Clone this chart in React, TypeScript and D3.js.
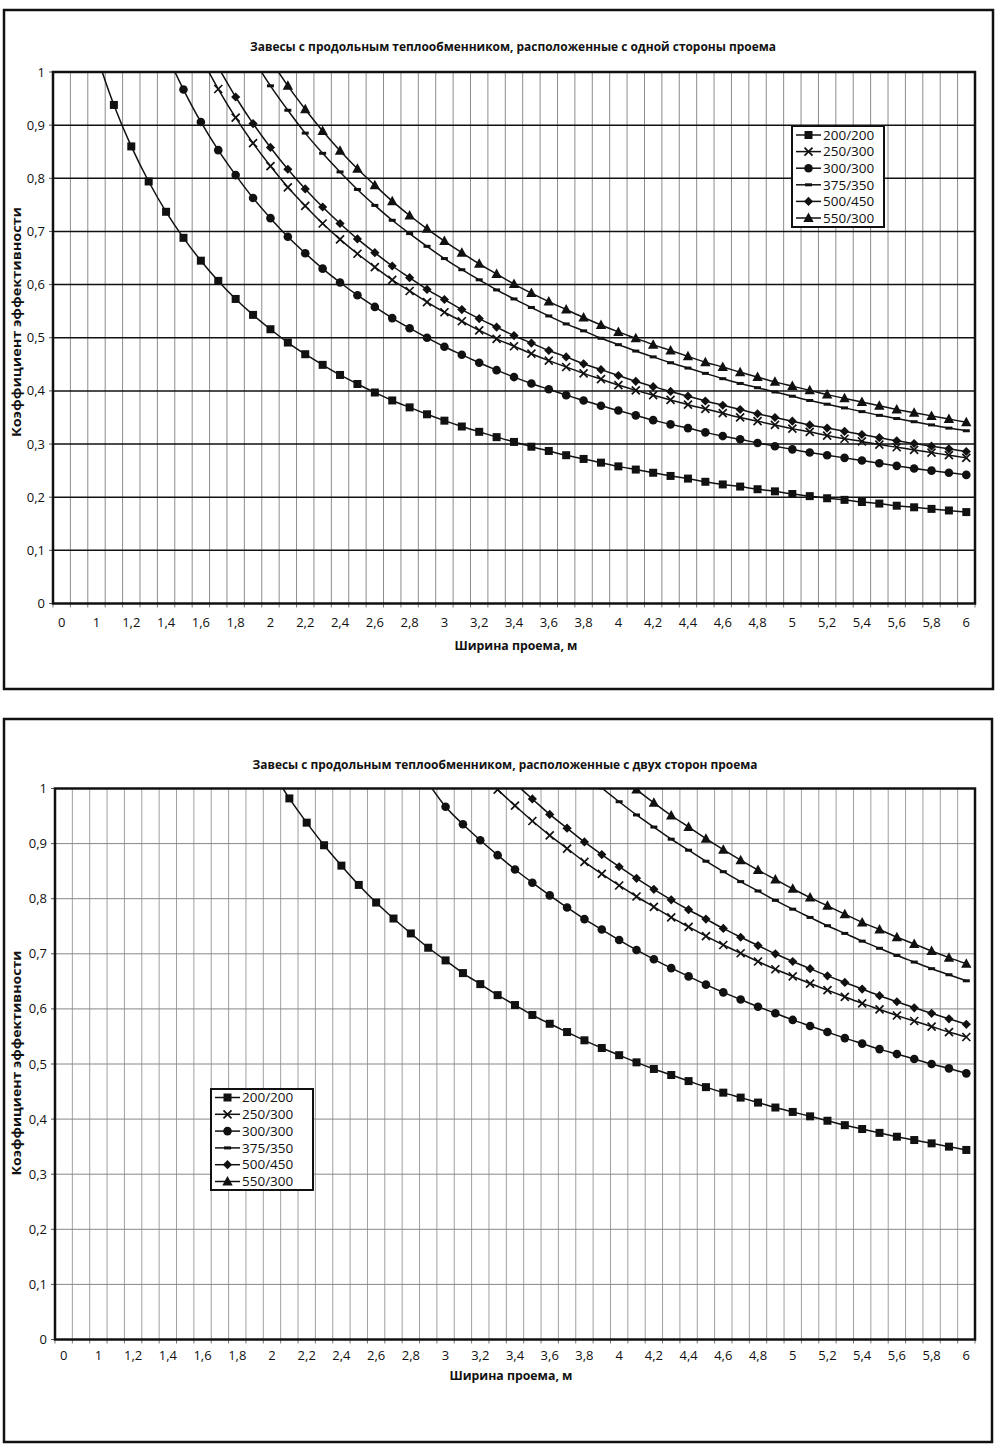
import React from "react";
import * as d3 from "d3";

// ---------- categories (x) ----------
const categories = [
  "0", "", "1", "1,1", "1,2", "1,3", "1,4", "1,5", "1,6", "1,7", "1,8", "1,9",
  "2", "2,1", "2,2", "2,3", "2,4", "2,5", "2,6", "2,7", "2,8", "2,9",
  "3", "3,1", "3,2", "3,3", "3,4", "3,5", "3,6", "3,7", "3,8", "3,9",
  "4", "4,1", "4,2", "4,3", "4,4", "4,5", "4,6", "4,7", "4,8", "4,9",
  "5", "5,1", "5,2", "5,3", "5,4", "5,5", "5,6", "5,7", "5,8", "5,9", "6",
];
const yTicks = [0, 0.1, 0.2, 0.3, 0.4, 0.5, 0.6, 0.7, 0.8, 0.9, 1];
const yTickLabels = ["0", "0,1", "0,2", "0,3", "0,4", "0,5", "0,6", "0,7", "0,8", "0,9", "1"];

const seriesNames = ["200/200", "250/300", "300/300", "375/350", "500/450", "550/300"];
const seriesMarkers = ["square", "cross", "circle", "dash", "diamond", "triangle"];

// ---------- panel 1: one side of the opening ----------
const p1Start = ["1", "1,6", "1,4", "1,9", "1,7", "2"];
const p1_200_200 = [1.032, 0.938, 0.860, 0.794, 0.737, 0.688, 0.645, 0.607, 0.573, 0.543, 0.516, 0.491, 0.469, 0.449, 0.430, 0.413, 0.397, 0.382, 0.369, 0.356, 0.344, 0.333, 0.323, 0.313, 0.304, 0.295, 0.287, 0.279, 0.272, 0.265, 0.258, 0.252, 0.246, 0.240, 0.235, 0.229, 0.224, 0.220, 0.215, 0.211, 0.206, 0.202, 0.198, 0.195, 0.191, 0.188, 0.184, 0.181, 0.178, 0.175, 0.172];
const p1_250_300 = [1.028, 0.968, 0.914, 0.866, 0.823, 0.783, 0.748, 0.715, 0.685, 0.658, 0.633, 0.609, 0.588, 0.567, 0.548, 0.531, 0.514, 0.498, 0.484, 0.470, 0.457, 0.445, 0.433, 0.422, 0.411, 0.401, 0.392, 0.383, 0.374, 0.366, 0.358, 0.350, 0.343, 0.336, 0.329, 0.323, 0.316, 0.310, 0.305, 0.299, 0.294, 0.289, 0.284, 0.279, 0.274];
const p1_300_300 = [1.036, 0.967, 0.906, 0.853, 0.806, 0.763, 0.725, 0.690, 0.659, 0.630, 0.604, 0.580, 0.558, 0.537, 0.518, 0.500, 0.483, 0.468, 0.453, 0.439, 0.426, 0.414, 0.403, 0.392, 0.382, 0.372, 0.363, 0.354, 0.345, 0.337, 0.330, 0.322, 0.315, 0.309, 0.302, 0.296, 0.290, 0.284, 0.279, 0.274, 0.269, 0.264, 0.259, 0.254, 0.250, 0.246, 0.242];
const p1_375_350 = [1.025, 0.974, 0.928, 0.885, 0.847, 0.812, 0.779, 0.749, 0.721, 0.696, 0.672, 0.649, 0.628, 0.609, 0.590, 0.573, 0.557, 0.541, 0.526, 0.513, 0.499, 0.487, 0.475, 0.464, 0.453, 0.443, 0.433, 0.423, 0.414, 0.406, 0.398, 0.390, 0.382, 0.375, 0.368, 0.361, 0.354, 0.348, 0.342, 0.336, 0.330, 0.325];
const p1_500_450 = [1.009, 0.953, 0.903, 0.858, 0.817, 0.780, 0.746, 0.715, 0.686, 0.660, 0.635, 0.613, 0.591, 0.572, 0.553, 0.536, 0.520, 0.504, 0.490, 0.476, 0.464, 0.451, 0.440, 0.429, 0.418, 0.408, 0.399, 0.390, 0.381, 0.373, 0.365, 0.357, 0.350, 0.343, 0.336, 0.330, 0.324, 0.318, 0.312, 0.306, 0.301, 0.296, 0.291, 0.286];
const p1_550_300 = [1.023, 0.974, 0.930, 0.889, 0.852, 0.818, 0.787, 0.757, 0.730, 0.705, 0.682, 0.660, 0.639, 0.620, 0.601, 0.584, 0.568, 0.553, 0.538, 0.524, 0.511, 0.499, 0.487, 0.476, 0.465, 0.454, 0.445, 0.435, 0.426, 0.417, 0.409, 0.401, 0.393, 0.386, 0.379, 0.372, 0.365, 0.359, 0.353, 0.347, 0.341];

// ---------- panel 2: both sides of the opening ----------
const p2Start = ["2", "3,2", "2,9", "3,8", "3,4", "4"];
const p2_200_200 = [1.032, 0.982, 0.938, 0.897, 0.860, 0.825, 0.793, 0.764, 0.737, 0.711, 0.688, 0.665, 0.645, 0.625, 0.607, 0.589, 0.573, 0.558, 0.543, 0.529, 0.516, 0.503, 0.491, 0.480, 0.469, 0.458, 0.448, 0.439, 0.430, 0.421, 0.413, 0.405, 0.397, 0.389, 0.382, 0.375, 0.368, 0.362, 0.356, 0.350, 0.344];
const p2_250_300 = [1.030, 0.998, 0.969, 0.941, 0.915, 0.891, 0.867, 0.845, 0.824, 0.804, 0.785, 0.766, 0.749, 0.732, 0.716, 0.701, 0.686, 0.672, 0.659, 0.646, 0.634, 0.622, 0.610, 0.599, 0.588, 0.578, 0.568, 0.558, 0.549];
const p2_300_300 = [1.010, 0.967, 0.935, 0.906, 0.879, 0.853, 0.829, 0.806, 0.784, 0.763, 0.744, 0.725, 0.707, 0.690, 0.674, 0.659, 0.644, 0.630, 0.617, 0.604, 0.592, 0.580, 0.569, 0.558, 0.547, 0.537, 0.527, 0.518, 0.509, 0.500, 0.492, 0.483];
const p2_375_350 = [1.028, 1.001, 0.976, 0.952, 0.930, 0.908, 0.888, 0.868, 0.849, 0.831, 0.814, 0.797, 0.781, 0.766, 0.751, 0.737, 0.723, 0.710, 0.697, 0.685, 0.673, 0.662, 0.651];
const p2_500_450 = [1.009, 0.981, 0.953, 0.928, 0.903, 0.880, 0.858, 0.837, 0.817, 0.798, 0.780, 0.763, 0.746, 0.730, 0.715, 0.700, 0.686, 0.673, 0.660, 0.648, 0.636, 0.624, 0.613, 0.602, 0.592, 0.582, 0.572];
const p2_550_300 = [1.023, 0.998, 0.974, 0.951, 0.930, 0.909, 0.889, 0.870, 0.852, 0.835, 0.818, 0.802, 0.787, 0.772, 0.757, 0.744, 0.730, 0.718, 0.705, 0.693, 0.682];

const FONT = "'Open Sans', 'Noto Sans', sans-serif";

function Marker({ type, cx, cy }: { type: string; cx: number; cy: number }) {
  switch (type) {
    case "square":
      return <rect x={cx - 4} y={cy - 4} width={8} height={8} fill="#111" />;
    case "cross":
      return (
        <path
          d={`M${cx - 4},${cy - 4}L${cx + 4},${cy + 4}M${cx - 4},${cy + 4}L${cx + 4},${cy - 4}`}
          stroke="#111"
          strokeWidth={1.7}
          fill="none"
        />
      );
    case "circle":
      return <circle cx={cx} cy={cy} r={4.3} fill="#111" />;
    case "dash":
      return <rect x={cx - 3.5} y={cy - 1.5} width={7} height={3} fill="#111" />;
    case "diamond":
      return <path d={`M${cx},${cy - 4.6}L${cx + 4.6},${cy}L${cx},${cy + 4.6}L${cx - 4.6},${cy}Z`} fill="#111" />;
    case "triangle":
      return <path d={`M${cx},${cy - 5.5}L${cx + 5.2},${cy + 4}L${cx - 5.2},${cy + 4}Z`} fill="#111" />;
    default:
      return null;
  }
}

type PanelProps = {
  id: string;
  frame: [number, number, number, number];
  left: number;
  right: number;
  top: number;
  bottom: number;
  title: string;
  titleX: number;
  titleY: number;
  titleLen: number;
  yLabelX: number;
  yLabelY: number;
  yLabelLen: number;
  xLabelX: number;
  xLabelY: number;
  xTickY: number;
  hGridColor: string;
  hGridWidth: number;
  vGridColor: string;
  starts: string[];
  values: number[][];
  legend: { x: number; y: number; w: number; h: number; row0: number; rowStep: number; lineX0: number; lineX1: number; textX: number };
};

function Panel(p: PanelProps) {
  const x = d3.scaleBand<string>().domain(categories.map((_, i) => String(i))).range([p.left, p.right]).padding(0);
  const bw = x.bandwidth();
  const y = d3.scaleLinear().domain([0, 1]).range([p.bottom, p.top]);
  const cx = (i: number) => (x(String(i)) as number) + bw / 2;
  const line = d3
    .line<[number, number]>()
    .x((d) => cx(d[0]))
    .y((d) => y(d[1]))
    .curve(d3.curveCatmullRom.alpha(0.5));

  const series = seriesNames.map((name, k) => {
    const s = categories.indexOf(p.starts[k]);
    const pts: [number, number][] = p.values[k].map((v, j) => [s + j, v]);
    return { name, marker: seriesMarkers[k], pts };
  });

  const boundaries = d3.range(categories.length + 1).map((i) => p.left + i * bw);

  return (
    <g>
      <defs>
        <clipPath id={`clip-${p.id}`}>
          <rect x={p.left} y={p.top} width={p.right - p.left} height={p.bottom - p.top} />
        </clipPath>
      </defs>
      <rect x={p.frame[0]} y={p.frame[1]} width={p.frame[2]} height={p.frame[3]} fill="#fff" stroke="#111" strokeWidth={2.5} />
      <text
        x={p.titleX}
        y={p.titleY}
        textAnchor="middle"
        fontFamily={FONT}
        fontWeight="bold"
        fontSize={12}
        fill="#111"
        textLength={p.titleLen}
        lengthAdjust="spacingAndGlyphs"
      >
        {p.title}
      </text>
      {/* vertical gridlines */}
      {boundaries.slice(1, -1).map((bx, i) => (
        <line key={`v${i}`} x1={bx} x2={bx} y1={p.top} y2={p.bottom} stroke={p.vGridColor} strokeWidth={1} />
      ))}
      {/* horizontal gridlines */}
      {yTicks.slice(1, -1).map((t) => (
        <line key={`h${t}`} x1={p.left} x2={p.right} y1={y(t)} y2={y(t)} stroke={p.hGridColor} strokeWidth={p.hGridWidth} />
      ))}
      {/* x ticks */}
      {boundaries.map((bx, i) => (
        <line key={`xt${i}`} x1={bx} x2={bx} y1={p.bottom} y2={p.bottom + 4} stroke="#777" strokeWidth={1} />
      ))}
      {/* y ticks */}
      {yTicks.map((t) => (
        <line key={`yt${t}`} x1={p.left - 4} x2={p.left} y1={y(t)} y2={y(t)} stroke="#555" strokeWidth={1} />
      ))}
      {/* series */}
      <g clipPath={`url(#clip-${p.id})`}>
        {series.map((s) => (
          <path key={s.name} d={line(s.pts) || ""} fill="none" stroke="#111" strokeWidth={1.5} />
        ))}
        {series.map((s) =>
          s.pts.map((d, j) => <Marker key={`${s.name}-${j}`} type={s.marker} cx={cx(d[0])} cy={y(d[1])} />)
        )}
      </g>
      {/* plot border */}
      <rect x={p.left} y={p.top} width={p.right - p.left} height={p.bottom - p.top} fill="none" stroke="#111" strokeWidth={2.5} />
      {/* y tick labels */}
      {yTicks.map((t, i) => (
        <text key={`yl${t}`} x={p.left - 8} y={y(t) + 4.5} textAnchor="end" fontFamily={FONT} fontSize={13} fill="#111">
          {yTickLabels[i]}
        </text>
      ))}
      {/* x tick labels (every second category) */}
      {categories.map((c, i) =>
        i % 2 === 0 ? (
          <text key={`xl${i}`} x={cx(i)} y={p.xTickY} textAnchor="middle" fontFamily={FONT} fontSize={13} fill="#111">
            {c}
          </text>
        ) : null
      )}
      {/* axis titles */}
      <text
        transform={`translate(${p.yLabelX},${p.yLabelY}) rotate(-90)`}
        textAnchor="middle"
        fontFamily={FONT}
        fontWeight="bold"
        fontSize={12}
        fill="#111"
        textLength={p.yLabelLen}
        lengthAdjust="spacingAndGlyphs"
      >
        Коэффициент эффективности
      </text>
      <text
        x={p.xLabelX}
        y={p.xLabelY}
        textAnchor="middle"
        fontFamily={FONT}
        fontWeight="bold"
        fontSize={12}
        fill="#111"
        textLength={123}
        lengthAdjust="spacingAndGlyphs"
      >
        Ширина проема, м
      </text>
      {/* legend */}
      <rect x={p.legend.x} y={p.legend.y} width={p.legend.w} height={p.legend.h} fill="#fff" stroke="#111" strokeWidth={2} />
      {series.map((s, k) => {
        const ry = p.legend.row0 + k * p.legend.rowStep;
        return (
          <g key={`lg${k}`}>
            <line x1={p.legend.lineX0} x2={p.legend.lineX1} y1={ry} y2={ry} stroke="#111" strokeWidth={1.5} />
            <Marker type={s.marker} cx={(p.legend.lineX0 + p.legend.lineX1) / 2} cy={ry} />
            <text x={p.legend.textX} y={ry + 4.7} fontFamily={FONT} fontSize={13.5} fill="#111">
              {s.name}
            </text>
          </g>
        );
      })}
    </g>
  );
}

export default function App() {
  return (
    <svg
      width={1000}
      height={1448}
      viewBox="0 0 1000 1448"
      style={{ position: "absolute", left: 0, top: 0, background: "#fff" }}
    >
      <rect x={0} y={0} width={1000} height={1448} fill="#fff" />
      <Panel
        id="p1"
        frame={[4, 10, 989, 679]}
        left={53}
        right={975}
        top={72}
        bottom={603.5}
        title="Завесы с продольным теплообменником, расположенные с одной стороны проема"
        titleX={513}
        titleY={51}
        titleLen={526}
        yLabelX={21}
        yLabelY={322}
        yLabelLen={230}
        xLabelX={516}
        xLabelY={650}
        xTickY={627}
        hGridColor="#111"
        hGridWidth={1.5}
        vGridColor="#8c8c8c"
        starts={p1Start}
        values={[p1_200_200, p1_250_300, p1_300_300, p1_375_350, p1_500_450, p1_550_300]}
        legend={{ x: 792, y: 126, w: 92, h: 101, row0: 135, rowStep: 16.6, lineX0: 796, lineX1: 821, textX: 823 }}
      />
      <Panel
        id="p2"
        frame={[4, 719, 988, 723]}
        left={55}
        right={975}
        top={788.5}
        bottom={1339.5}
        title="Завесы  с продольным теплообменником, расположенные с двух сторон проема"
        titleX={505}
        titleY={769}
        titleLen={505}
        yLabelX={21}
        yLabelY={1063}
        yLabelLen={225}
        xLabelX={511}
        xLabelY={1380}
        xTickY={1360}
        hGridColor="#888"
        hGridWidth={1}
        vGridColor="#a0a0a0"
        starts={p2Start}
        values={[p2_200_200, p2_250_300, p2_300_300, p2_375_350, p2_500_450, p2_550_300]}
        legend={{ x: 211, y: 1089, w: 102, h: 101, row0: 1097.5, rowStep: 16.8, lineX0: 215, lineX1: 240, textX: 242 }}
      />
    </svg>
  );
}
